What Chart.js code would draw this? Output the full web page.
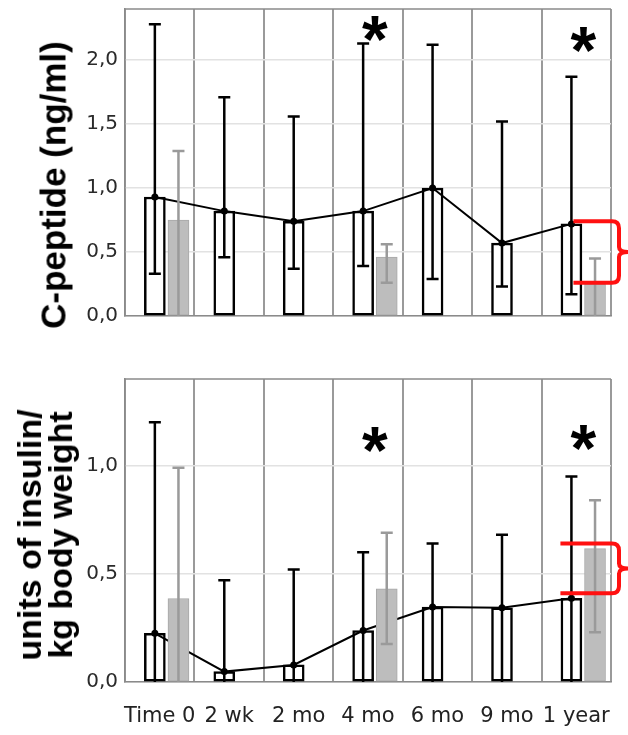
<!DOCTYPE html>
<html>
<head>
<meta charset="utf-8">
<script src="https://cdn.jsdelivr.net/npm/chart.js@4.4.0/dist/chart.umd.min.js"></script>
<style>
  body { margin: 0; background: #fff; }
  #wrap { position: relative; width: 628px; height: 735px; overflow: hidden; background: #fff; }
  canvas { position: absolute; left: 0; }
  #topChart { top: 0; }
  #bottomChart { top: 360px; }
  .ylab {
    position: absolute;
    font-family: "Liberation Sans", Arial, sans-serif;
    font-weight: bold;
    color: #000;
    white-space: nowrap;
    text-align: center;
    transform: translate(-50%, -50%) rotate(-90deg);
  }
</style>
</head>
<body>
<div id="wrap">
  <canvas id="topChart" width="628" height="340"></canvas>
  <canvas id="bottomChart" width="628" height="375"></canvas>
  <div class="ylab" style="left:53px; top:185px; font-size:35px; line-height:35px;">C-peptide (ng/ml)</div>
  <div class="ylab" style="left:45px; top:535px; font-size:34px; line-height:31px;">units of insulin/<br>kg body weight</div>
</div>
<script>
const categories = ['Time 0', '2 wk', '2 mo', '4 mo', '6 mo', '9 mo', '1 year'];

// C-peptide (ng/ml): open bars, grey bars, whiskers
const cpepMean = [0.93, 0.82, 0.74, 0.82, 1.00, 0.57, 0.72];
const cpepLow = [0.33, 0.46, 0.37, 0.39, 0.29, 0.23, 0.17];
const cpepHigh = [2.28, 1.71, 1.56, 2.13, 2.12, 1.52, 1.87];
const cpepGrey = [0.75, null, null, 0.46, null, null, 0.25];
const cpepGreyLow = [0, null, null, 0.26, null, null, 0];
const cpepGreyHigh = [1.29, null, null, 0.56, null, null, 0.45];
const cpepStars = [null, null, null, 2.28, null, null, 2.2];
const cpepBrace = [0.74, 0.26];

// insulin dose (units / kg body weight)
const insMean = [0.225, 0.048, 0.079, 0.238, 0.346, 0.343, 0.387];
const insLow = [0, 0, 0, 0, 0, 0, 0];
const insHigh = [1.20, 0.47, 0.52, 0.60, 0.64, 0.68, 0.95];
const insGrey = [0.386, null, null, 0.43, null, null, 0.616];
const insGreyLow = [0, null, null, 0.176, null, null, 0.23];
const insGreyHigh = [0.99, null, null, 0.69, null, null, 0.84];
const insStars = [null, null, null, 1.14, null, null, 1.15];
const insBrace = [0.64, 0.41];

const openShift = -0.07;
const greyShift = 0.27;

const toPoints = (values, shift) => values.map((v, i) => ({ x: i + shift, y: v }));
const fmt = v => v.toFixed(1).replace('.', ',');

const errorBars = {
  id: 'errorBars',
  afterDatasetsDraw(chart, args, opts) {
    const { ctx } = chart;
    const ys = chart.scales.y;
    ctx.save();
    opts.sets.forEach(set => {
      const meta = chart.getDatasetMeta(set.dataset);
      ctx.strokeStyle = set.color;
      ctx.lineWidth = set.width;
      meta.data.forEach((bar, i) => {
        if (set.low[i] === null) return;
        const x = bar.x;
        const yl = ys.getPixelForValue(set.low[i]);
        const yh = ys.getPixelForValue(set.high[i]);
        ctx.beginPath();
        ctx.moveTo(x, yl);
        ctx.lineTo(x, yh);
        ctx.moveTo(x - 6, yh);
        ctx.lineTo(x + 6, yh);
        if (set.low[i] > 0) {
          ctx.moveTo(x - 6, yl);
          ctx.lineTo(x + 6, yl);
        }
        ctx.stroke();
      });
    });
    ctx.restore();
  }
};

const decor = {
  id: 'decor',
  afterDraw(chart, args, o) {
    const { ctx, chartArea: a } = chart;
    const ys = chart.scales.y, xm = chart.scales.xm;
    ctx.save();
    // frame top
    ctx.strokeStyle = '#8a8a8a';
    ctx.lineWidth = 1.5;
    ctx.beginPath();
    ctx.moveTo(a.left, a.top);
    ctx.lineTo(a.right, a.top);
    ctx.stroke();

    // significance stars
    ctx.fillStyle = '#000';
    ctx.font = 'bold 66px "Liberation Sans", Arial, sans-serif';
    ctx.textAlign = 'center';
    ctx.textBaseline = 'alphabetic';
    o.stars.forEach((v, i) => {
      if (v === null) return;
      ctx.fillText('*', xm.getPixelForValue(i + 0.1), ys.getPixelForValue(v) + 38);
    });

    // red brace on last time point
    const bar = chart.getDatasetMeta(0).data[6];
    const x0 = bar.x + o.braceStart;
    const yt = ys.getPixelForValue(o.brace[0]);
    const yb = ys.getPixelForValue(o.brace[1]);
    const xv = a.right + 8, tip = a.right + 17, r = 7;
    const ym = (yt + yb) / 2;
    ctx.strokeStyle = '#ff1010';
    ctx.lineWidth = 4;
    ctx.lineJoin = 'round';
    ctx.beginPath();
    ctx.moveTo(x0, yt);
    ctx.lineTo(xv - r, yt);
    ctx.quadraticCurveTo(xv, yt, xv, yt + r);
    ctx.lineTo(xv, ym - 5);
    ctx.quadraticCurveTo(xv, ym, tip, ym);
    ctx.quadraticCurveTo(xv, ym, xv, ym + 5);
    ctx.lineTo(xv, yb - r);
    ctx.quadraticCurveTo(xv, yb, xv - r, yb);
    ctx.lineTo(x0, yb);
    ctx.stroke();
    ctx.restore();
  }
};

function panel(id, p) {
  const tickFont = { family: '"DejaVu Sans", sans-serif', size: 20 };
  const barCommon = {
    type: 'bar', xAxisID: 'xm', borderSkipped: false, grouped: false,
    barPercentage: 1, categoryPercentage: 1, maxBarThickness: 21
  };
  return new Chart(document.getElementById(id), {
    type: 'bar',
    data: {
      labels: categories,
      datasets: [
        Object.assign({}, barCommon, {
          data: toPoints(p.mean, openShift),
          backgroundColor: '#ffffff', borderColor: '#000000', borderWidth: 2.5, order: 3
        }),
        {
          type: 'line', data: toPoints(p.mean, openShift), xAxisID: 'xm',
          borderColor: '#000000', borderWidth: 2, tension: 0,
          pointRadius: 3.5, pointBackgroundColor: '#000000', pointBorderWidth: 0, order: 2
        },
        Object.assign({}, barCommon, {
          data: toPoints(p.grey, greyShift),
          backgroundColor: '#bdbdbd', borderColor: '#a8a8a8', borderWidth: 1, order: 1
        })
      ]
    },
    options: {
      responsive: false,
      animation: false,
      layout: { padding: { top: p.padTop, right: 17, left: 0, bottom: 0 } },
      plugins: {
        legend: { display: false },
        tooltip: { enabled: false },
        errorBars: {
          sets: [
            { dataset: 0, low: p.low, high: p.high, color: '#000000', width: 2.5 },
            { dataset: 2, low: p.greyLow, high: p.greyHigh, color: '#9a9a9a', width: 2.5 }
          ]
        },
        decor: { stars: p.stars, brace: p.brace, braceStart: p.braceStart }
      },
      scales: {
        x: {
          type: 'category',
          offset: true,
          grid: { offset: true, color: '#9a9a9a', lineWidth: 2, drawTicks: false },
          border: { color: '#8a8a8a', width: 1.5 },
          ticks: {
            display: p.showLabels, autoSkip: false, maxRotation: 0, minRotation: 0,
            padding: 22, font: { family: '"DejaVu Sans", sans-serif', size: 21 }, color: '#222222'
          },
          afterFit: s => { s.height = p.xHeight; s.paddingLeft = 0; s.paddingRight = 0; }
        },
        xm: { type: 'linear', axis: 'x', display: false, offset: false, min: -0.5, max: 6.5 },
        y: {
          min: 0, max: p.max,
          ticks: {
            stepSize: 0.5, padding: 7, font: tickFont, color: '#2a2a2a',
            callback: v => (Math.abs(v * 2 - Math.round(v * 2)) < 1e-6 ? fmt(v) : '')
          },
          grid: {
            drawTicks: false, lineWidth: 1.5,
            color: ctx => (Math.abs(ctx.tick.value * 2 - Math.round(ctx.tick.value * 2)) < 1e-6 ? '#e2e2e2' : 'rgba(0,0,0,0)')
          },
          border: { color: '#8a8a8a', width: 1.5 },
          afterFit: s => { s.width = 125; s.paddingTop = 0; s.paddingBottom = 0; }
        }
      }
    },
    plugins: [errorBars, decor]
  });
}

panel('topChart', {
  mean: cpepMean, low: cpepLow, high: cpepHigh,
  grey: cpepGrey, greyLow: cpepGreyLow, greyHigh: cpepGreyHigh,
  stars: cpepStars, brace: cpepBrace, braceStart: 2,
  max: 2.4, padTop: 9, xHeight: 24, showLabels: false
});

panel('bottomChart', {
  mean: insMean, low: insLow, high: insHigh,
  grey: insGrey, greyLow: insGreyLow, greyHigh: insGreyHigh,
  stars: insStars, brace: insBrace, braceStart: -11,
  max: 1.4, padTop: 19, xHeight: 53, showLabels: true
});
</script>
</body>
</html>
